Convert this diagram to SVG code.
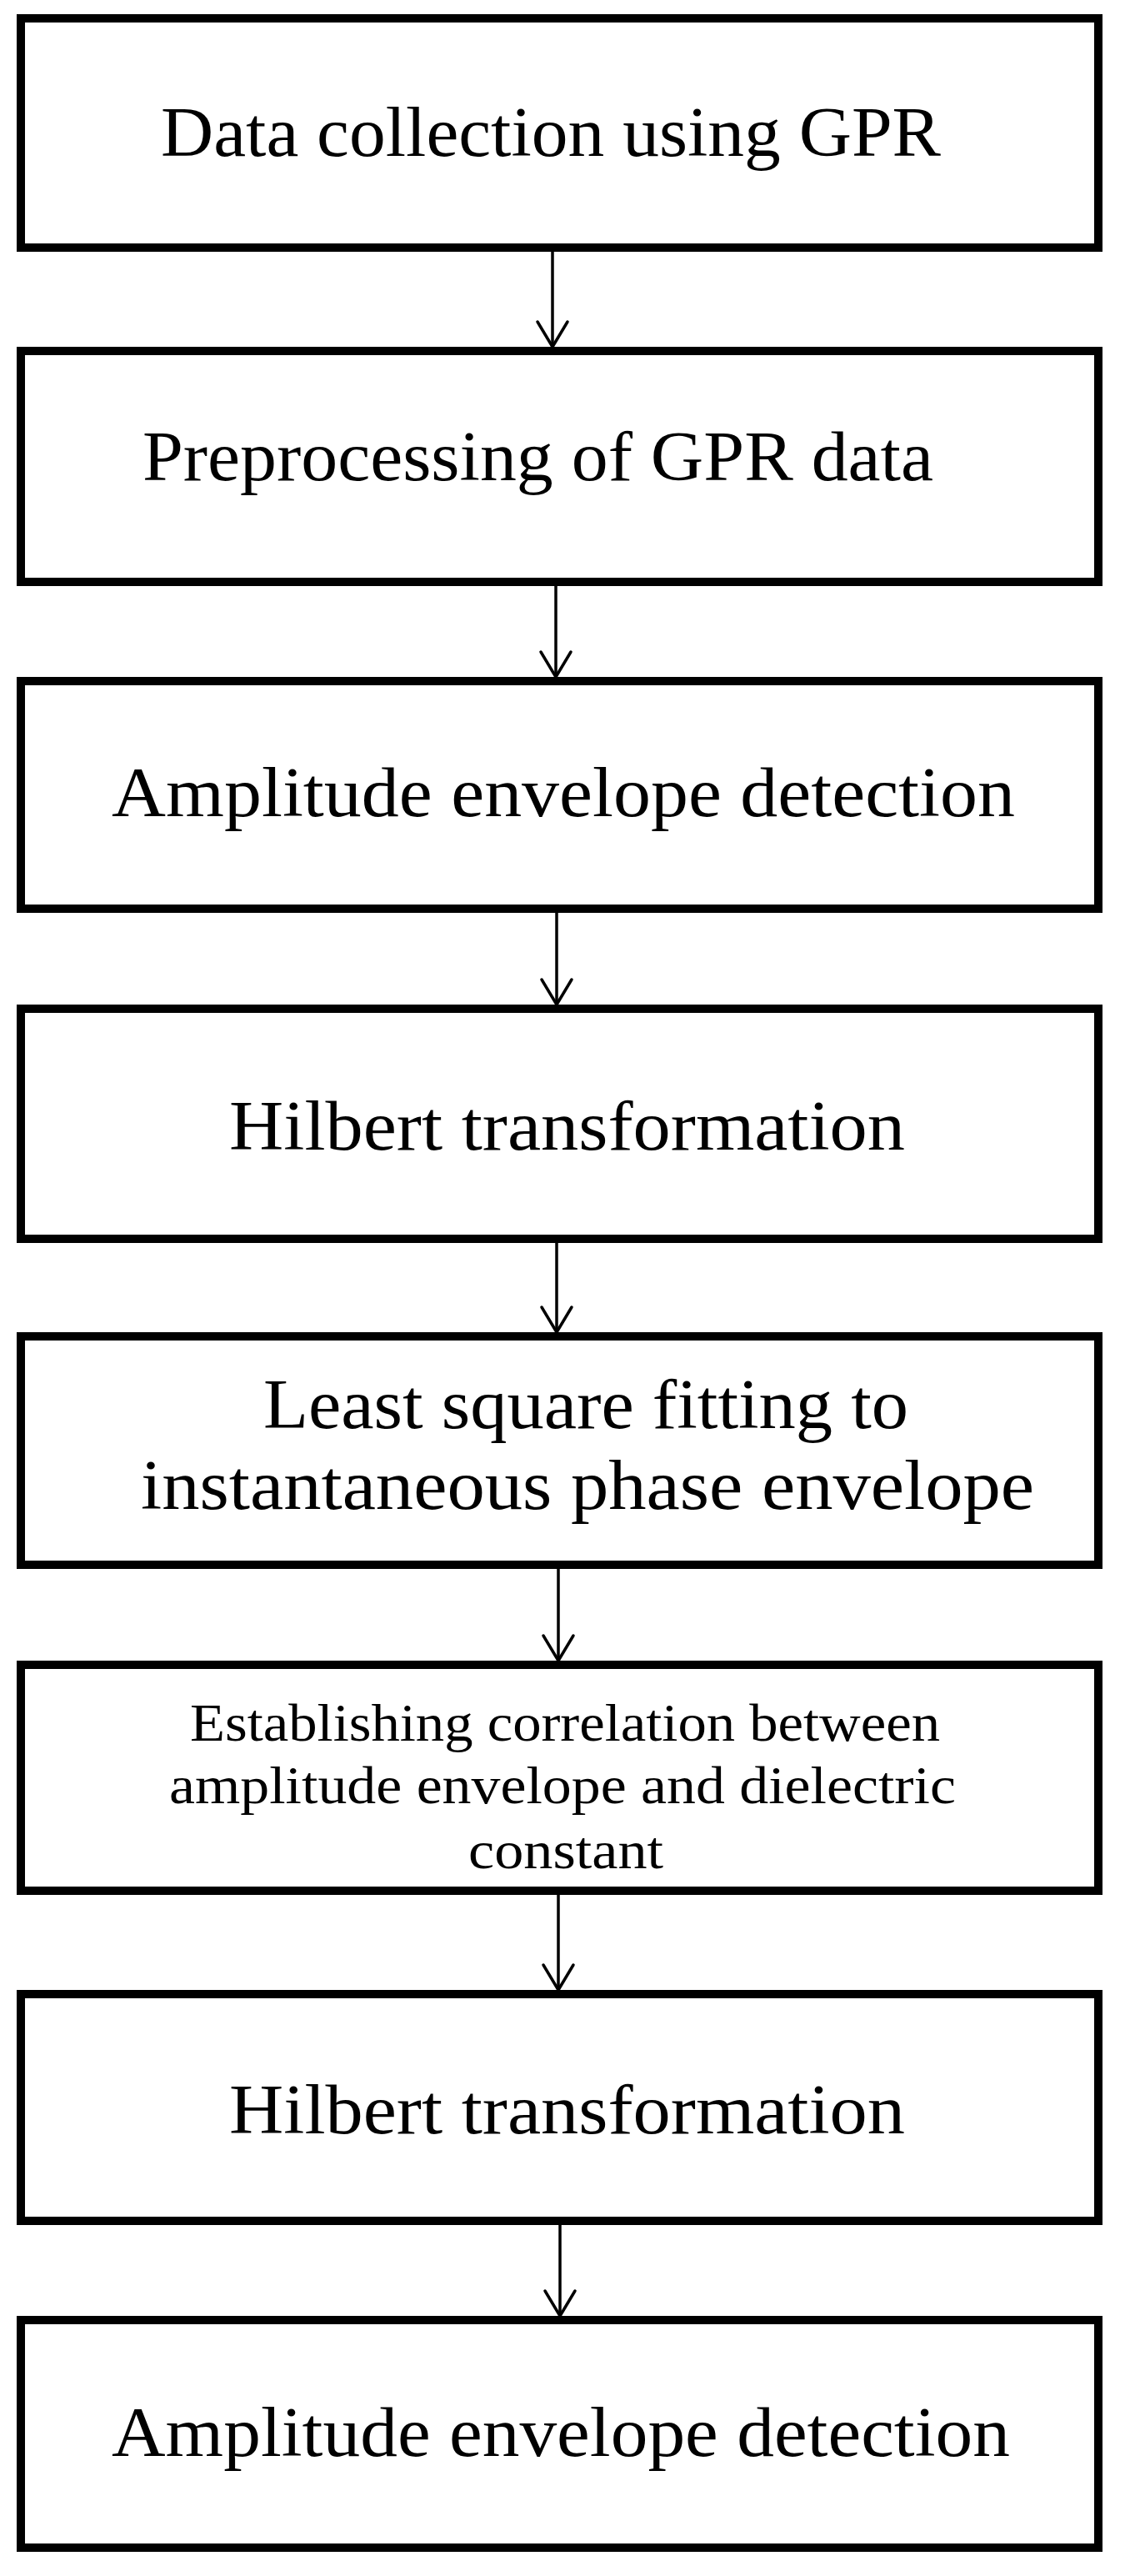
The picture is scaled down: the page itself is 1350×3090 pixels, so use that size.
<svg xmlns="http://www.w3.org/2000/svg" width="1350" height="3090" viewBox="0 0 1350 3090">
<style>
.box{fill:#fff;stroke:#000;stroke-width:10}
.lbl{font-family:"Liberation Serif","Times New Roman",serif;font-size:84px;fill:#000}
.sm{font-size:64px}
.edge{stroke:#000;stroke-width:3.5;fill:none}
</style>
<defs>
<marker id="arr" markerUnits="userSpaceOnUse" viewBox="-34 -22 38 44" refX="0" refY="0" markerWidth="38" markerHeight="44" orient="auto">
<path d="M-30,-18 L0,0 L-30,18" fill="none" stroke="#000" stroke-width="3.5" stroke-linejoin="round" stroke-linecap="round"/>
</marker>
</defs>
<rect width="1350" height="3090" fill="#fff"/>
<g id="connectors">
<line class="edge" x1="663" y1="302" x2="663" y2="416" marker-end="url(#arr)"/>
<line class="edge" x1="667" y1="703" x2="667" y2="812" marker-end="url(#arr)"/>
<line class="edge" x1="668" y1="1095" x2="668" y2="1205" marker-end="url(#arr)"/>
<line class="edge" x1="668" y1="1491" x2="668" y2="1598" marker-end="url(#arr)"/>
<line class="edge" x1="670" y1="1882" x2="670" y2="1992" marker-end="url(#arr)"/>
<line class="edge" x1="670" y1="2273" x2="670" y2="2387" marker-end="url(#arr)"/>
<line class="edge" x1="672" y1="2669" x2="672" y2="2778" marker-end="url(#arr)"/>
</g>
<g id="n1">
<rect class="box" x="25" y="22" width="1293" height="275"/>
<text class="lbl" x="193" y="187" textLength="936" lengthAdjust="spacingAndGlyphs">Data collection using GPR</text>
</g>
<g id="n2">
<rect class="box" x="25" y="421" width="1293" height="277"/>
<text class="lbl" x="171" y="576" textLength="949" lengthAdjust="spacingAndGlyphs">Preprocessing of GPR data</text>
</g>
<g id="n3">
<rect class="box" x="25" y="817" width="1293" height="273"/>
<text class="lbl" x="134" y="979" textLength="1084" lengthAdjust="spacingAndGlyphs">Amplitude envelope detection</text>
</g>
<g id="n4">
<rect class="box" x="25" y="1210" width="1293" height="276"/>
<text class="lbl" x="275" y="1379" textLength="811" lengthAdjust="spacingAndGlyphs">Hilbert transformation</text>
</g>
<g id="n5">
<rect class="box" x="25" y="1603" width="1293" height="274"/>
<text class="lbl" x="316" y="1713" textLength="774" lengthAdjust="spacingAndGlyphs">Least square fitting to</text>
<text class="lbl" x="169" y="1810" textLength="1072" lengthAdjust="spacingAndGlyphs">instantaneous phase envelope</text>
</g>
<g id="n6">
<rect class="box" x="25" y="1997" width="1293" height="271"/>
<text class="lbl sm" x="228" y="2088" textLength="900" lengthAdjust="spacingAndGlyphs">Establishing correlation between</text>
<text class="lbl sm" x="203" y="2163" textLength="944" lengthAdjust="spacingAndGlyphs">amplitude envelope and dielectric</text>
<text class="lbl sm" x="562" y="2241" textLength="234" lengthAdjust="spacingAndGlyphs">constant</text>
</g>
<g id="n7">
<rect class="box" x="25" y="2392" width="1293" height="272"/>
<text class="lbl" x="275" y="2559" textLength="811" lengthAdjust="spacingAndGlyphs">Hilbert transformation</text>
</g>
<g id="n8">
<rect class="box" x="25" y="2783" width="1293" height="273"/>
<text class="lbl" x="134" y="2946" textLength="1078" lengthAdjust="spacingAndGlyphs">Amplitude envelope detection</text>
</g>
</svg>
